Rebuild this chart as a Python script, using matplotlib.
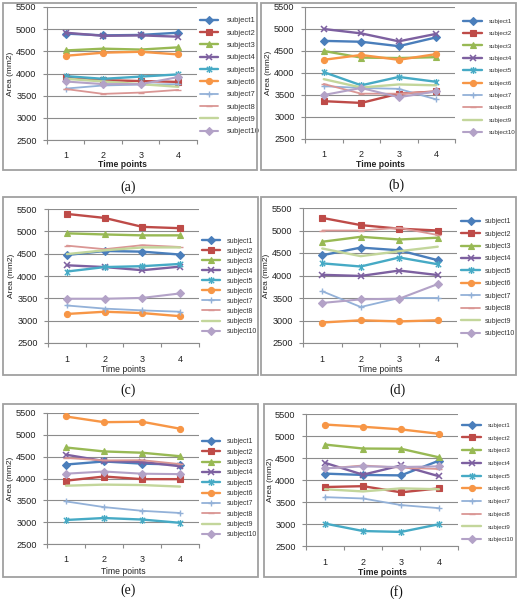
import matplotlib
matplotlib.use("Agg")
import matplotlib.pyplot as plt
from matplotlib.path import Path
from matplotlib.patches import Rectangle

# ---------------- data ----------------
time_points = [1, 2, 3, 4]
subjects = ["subject1", "subject2", "subject3", "subject4", "subject5",
            "subject6", "subject7", "subject8", "subject9", "subject10"]
panel_labels = ["(a)", "(b)", "(c)", "(d)", "(e)", "(f)"]
y_ticks = [2500, 3000, 3500, 4000, 4500, 5000, 5500]
x_label = "Time points"
y_label = "Area (mm2)"

panel_a = [
    [4900, 4860, 4870, 4920],
    [3930, 3850, 3830, 3810],
    [4520, 4560, 4540, 4590],
    [4920, 4850, 4860, 4830],
    [3940, 3880, 3930, 3980],
    [4400, 4470, 4490, 4430],
    [3660, 3730, 3750, 3760],
    [3650, 3540, 3570, 3630],
    [3880, 3820, 3760, 3700],
    [3820, 3760, 3760, 3920],
]
panel_b = [
    [4730, 4710, 4610, 4810],
    [3360, 3320, 3530, 3580],
    [4500, 4350, 4340, 4360],
    [5000, 4900, 4720, 4890],
    [4020, 3720, 3910, 3800],
    [4300, 4410, 4300, 4430],
    [3700, 3660, 3640, 3400],
    [3750, 3530, 3530, 3580],
    [3860, 3670, 3740, 3720],
    [3500, 3660, 3450, 3580],
]
panel_c = [
    [4470, 4560, 4545, 4480],
    [5390, 5300, 5100, 5070],
    [4955, 4930, 4910, 4910],
    [4240, 4200, 4130, 4210],
    [4100, 4200, 4220, 4270],
    [3150, 3200, 3170, 3100],
    [3340, 3270, 3230, 3200],
    [4680, 4600, 4690, 4650],
    [4490, 4575, 4640, 4640],
    [3490, 3490, 3510, 3610],
]
panel_d = [
    [4450, 4620, 4560, 4340],
    [5280, 5120, 5040, 5000],
    [4750, 4860, 4800, 4840],
    [4015, 3990, 4110, 4010],
    [4270, 4200, 4400, 4250],
    [2955, 3005, 2980, 3005],
    [3650, 3300, 3500, 3500],
    [5000, 5000, 5060, 4900],
    [4600, 4430, 4540, 4640],
    [3390, 3470, 3485, 3810],
]
panel_e = [
    [4320, 4390, 4340, 4320],
    [3950, 4045, 3985, 3985],
    [4710, 4620, 4590, 4510],
    [4545, 4400, 4380, 4280],
    [3050, 3095, 3060, 2985],
    [5420, 5290, 5300, 5140],
    [3475, 3345, 3260, 3210],
    [4470, 4415, 4420, 4330],
    [3835, 3860, 3850, 3815],
    [4110, 4160, 4110, 4100],
]
panel_f = [
    [4145, 4115, 4105, 4440],
    [3840, 3860, 3720, 3810],
    [4805, 4715, 4710, 4515],
    [4390, 4120, 4330, 4085],
    [3010, 2840, 2820, 2995],
    [5260, 5210, 5150, 5050],
    [3610, 3580, 3430, 3360],
    [4260, 4330, 4280, 4250],
    [3790, 3740, 3810, 3790],
    [4265, 4310, 4295, 4310],
]
panels_data = [panel_a, panel_b, panel_c, panel_d, panel_e, panel_f]

# ---------------- styles ----------------
colors = ["#4A7EBB", "#BE4B48", "#98B954", "#7D60A0", "#46AAC5",
          "#F79646", "#93B1D8", "#DA9694", "#C3D69B", "#B3A2C7"]
star = Path([(-1, -1), (1, 1), (-1, 1), (1, -1), (0, -1.3), (0, 1.3)],
            [Path.MOVETO, Path.LINETO, Path.MOVETO, Path.LINETO, Path.MOVETO, Path.LINETO])
markers = ["D", "s", "^", "x", star, "o", "+", "_", "_", "D"]
msizes = [3.6, 4.2, 4.4, 4.8, 5.0, 4.4, 5.0, 4.5, 0.0, 3.6]
mews = [0.8, 0.8, 0.8, 1.1, 1.0, 0.8, 1.0, 1.0, 0.8, 0.8]
lws = [1.7, 1.7, 1.7, 1.7, 1.7, 1.7, 1.3, 1.3, 1.7, 1.5]
grid_col = "#8C8C8C"
border_col = "#A0A0A0"

W, H = 518, 599
fig = plt.figure(figsize=(W / 100, H / 100), dpi=100)
fig.patch.set_facecolor("white")
plt.rcParams["font.family"] = ["Liberation Sans", "DejaVu Sans"]


def fx(x):
    return x / W


def fy(y):
    return 1 - y / H


# layout in pixels: border (x0,y0,x1,y1), axes (l,t,r,b),
# legend (handle x, first-row centre y, pitch, text x, handle px, font pt),
# x tick-label pad (pt), xlabel centre y, caption centre (x,y), bold xlabel
layouts = [
    dict(border=(3, 3, 257, 170), axes=(47, 7, 197, 140),
         leg=(200, 20.7, 12.3, 227, 18, 5.5),
         xpad=8.2, xl=164.5, cap=(128, 187), bold=True),
    dict(border=(261, 3, 516, 170), axes=(305, 7, 455, 139),
         leg=(463, 21.5, 13.0, 489, 19, 4.5),
         xpad=8.2, xl=164.5, cap=(396, 185), bold=True),
    dict(border=(3, 197, 258, 375), axes=(48, 209, 199, 343),
         leg=(202, 241, 9.7, 227, 18, 5.0),
         xpad=8.6, xl=369.0, cap=(128, 390), bold=False),
    dict(border=(261, 197, 516, 375), axes=(303, 208, 457, 343),
         leg=(461, 221.5, 12.1, 485, 19, 5.0),
         xpad=8.6, xl=369.0, cap=(398, 390), bold=False),
    dict(border=(3, 404, 258, 577), axes=(47, 413, 199, 544),
         leg=(202, 441.7, 10.0, 227, 18, 5.0),
         xpad=8.0, xl=571.0, cap=(128, 590), bold=False),
    dict(border=(264, 404, 516, 577), axes=(306, 414, 458, 546),
         leg=(462, 425.5, 13.3, 488, 19, 4.4),
         xpad=8.8, xl=572.5, cap=(396, 592), bold=True),
]

for data, lab, L in zip(panels_data, panel_labels, layouts):
    bx0, by0, bx1, by1 = L["border"]
    fig.add_artist(Rectangle((fx(bx0), fy(by1)), (bx1 - bx0) / W, (by1 - by0) / H,
                             transform=fig.transFigure, fill=False,
                             edgecolor=border_col, linewidth=1.3))
    l, t, r, b = L["axes"]
    ax = fig.add_axes([fx(l), fy(b), (r - l) / W, (b - t) / H])
    ax.set_facecolor("none")
    for i, vals in enumerate(data):
        ax.plot(time_points, vals, color=colors[i], marker=markers[i],
                markersize=msizes[i], markeredgewidth=mews[i],
                markeredgecolor=colors[i], markerfacecolor=colors[i],
                linewidth=lws[i], label=subjects[i], solid_capstyle="round")
    ax.set_xlim(0.5, 4.5)
    ax.set_ylim(2500, 5500)
    ax.set_yticks(y_ticks)
    ax.yaxis.grid(True, color=grid_col, linewidth=0.8)
    ax.set_axisbelow(True)
    for s in ["top", "right"]:
        ax.spines[s].set_visible(False)
    for s in ["left", "bottom"]:
        ax.spines[s].set_color(grid_col)
        ax.spines[s].set_linewidth(0.8)
    ax.tick_params(axis="y", length=3, width=0.8, color=grid_col, pad=4.5,
                   labelsize=6.6, labelcolor="#222222")
    ax.set_xticks(time_points)
    ax.set_xticks([0.5, 1.5, 2.5, 3.5, 4.5], minor=True)
    ax.tick_params(axis="x", which="major", length=0, pad=L["xpad"],
                   labelsize=6.5, labelcolor="#222222")
    ax.tick_params(axis="x", which="minor", length=3, width=0.8, color=grid_col)

    # legend
    lx, ly, pitch, tx, hpx, lfs = L["leg"]
    fs_px = lfs * 100 / 72
    base_row = 0.96 * fs_px
    spacing = max((pitch - base_row) / fs_px, 0.0)
    ax.legend(loc="upper left", bbox_to_anchor=(fx(lx), fy(ly - base_row / 2)),
              bbox_transform=fig.transFigure, frameon=False, fontsize=lfs,
              handlelength=hpx / fs_px, handletextpad=(tx - lx - hpx) / fs_px,
              borderpad=0, borderaxespad=0,
              labelspacing=spacing, numpoints=1, labelcolor="#333333")

    fig.text(fx((l + r) / 2), fy(L["xl"]), x_label, ha="center", va="center",
             fontsize=6.2, fontweight="bold" if L["bold"] else "normal", color="#222222")
    fig.text(fx(l - 36), fy((t + b) / 2), y_label, ha="center", va="center",
             rotation=90, fontsize=6.0, color="#222222")
    cx, cy = L["cap"]
    fig.text(fx(cx), fy(cy), lab, ha="center", va="center", fontsize=10,
             family=["Liberation Serif", "DejaVu Serif"], color="#111111")

fig.savefig("out.png", dpi=100, facecolor="white")
